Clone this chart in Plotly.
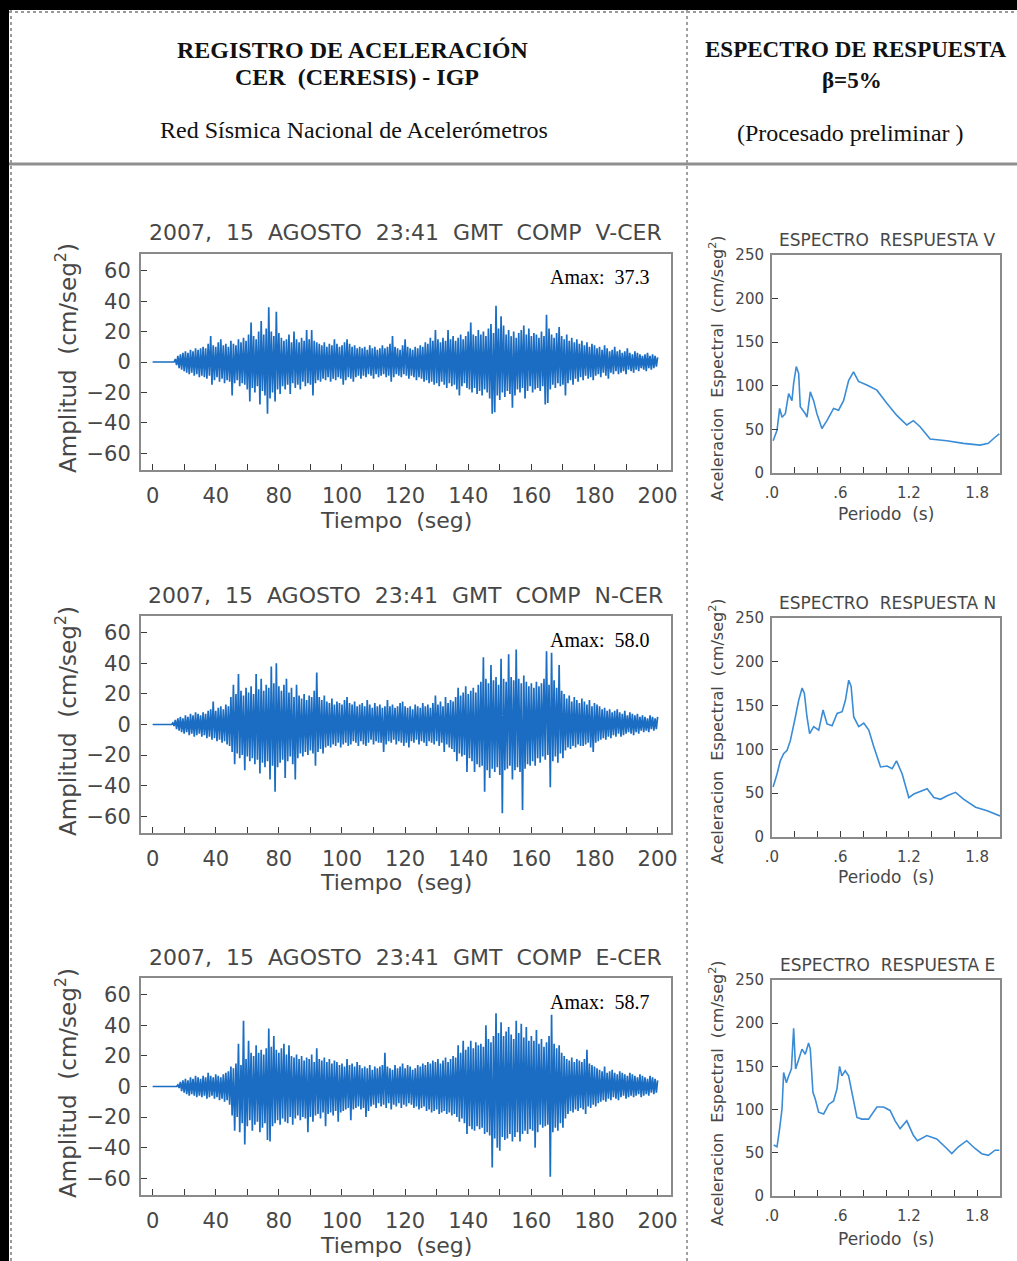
import plotly.graph_objects as go

# ---------------- DATA ----------------
SAMPLE_STEP = 1.0  # seconds between successive positive peaks

# Component V : positive peaks (t = 0,1,...,200) and negative peaks (t = 0.5,1.5,...)
v_upper = [
    0, 0, 0, 0, 0, 0, 0, 0, 0, 2,
    4, 5, 6, 7, 6, 8, 7, 9, 8, 9,
    10, 9, 12, 17, 11, 10, 13, 15, 11, 12,
    10, 14, 12, 11, 15, 13, 16, 14, 18, 26,
    17, 15, 20, 27, 18, 22, 36, 20, 17, 33,
    19, 16, 14, 15, 18, 13, 20, 15, 13, 16,
    14, 21, 15, 21, 14, 13, 12, 11, 13, 10,
    12, 11, 15, 12, 10, 11, 13, 15, 12, 10,
    11, 9, 10, 9, 10, 8, 11, 9, 10, 8,
    9, 11, 9, 10, 12, 17, 10, 9, 8, 11,
    15, 10, 9, 8, 10, 9, 11, 10, 13, 12,
    16, 14, 21, 15, 13, 16, 14, 21, 15, 17,
    14, 16, 18, 15, 17, 20, 26, 18, 17, 21,
    18, 20, 17, 22, 25, 19, 37, 22, 30, 24,
    18, 21, 17, 20, 16, 19, 21, 24, 18, 22,
    17, 19, 18, 16, 20, 17, 31, 22, 18, 16,
    19, 23, 17, 15, 18, 14, 16, 13, 15, 12,
    14, 11, 13, 10, 12, 11, 9, 10, 8, 11,
    9, 7, 8, 10, 7, 8, 6, 7, 9, 6,
    5, 7, 6, 5, 4, 5, 6, 4, 5, 4,
    3,
]
v_lower = [
    0, 0, 0, 0, 0, 0, 0, 0, 0, -2,
    -4, -5, -6, -7, -8, -7, -9, -8, -10, -9,
    -10, -11, -9, -15, -12, -10, -13, -11, -14, -12,
    -13, -22, -14, -12, -16, -14, -15, -18, -26, -17,
    -20, -16, -28, -19, -22, -34, -24, -20, -26, -18,
    -21, -16, -18, -15, -21, -14, -17, -15, -18, -13,
    -16, -14, -15, -22, -14, -12, -13, -11, -12, -10,
    -13, -11, -12, -10, -11, -15, -12, -10, -11, -13,
    -10, -9, -11, -9, -10, -8, -9, -11, -8, -10,
    -9, -8, -10, -9, -13, -10, -8, -9, -10, -8,
    -9, -11, -9, -10, -12, -10, -11, -13, -12, -14,
    -13, -15, -14, -16, -13, -15, -17, -14, -16, -15,
    -18, -22, -16, -14, -17, -18, -20, -17, -21, -19,
    -22, -18, -20, -24, -34, -33, -22, -25, -20, -23,
    -19, -21, -30, -22, -18, -20, -17, -24, -19, -16,
    -20, -18, -17, -19, -16, -28, -27, -18, -15, -17,
    -14, -16, -15, -22, -14, -12, -15, -11, -13, -10,
    -12, -9, -11, -10, -12, -9, -8, -10, -7, -9,
    -11, -7, -8, -6, -8, -7, -6, -8, -5, -6,
    -7, -5, -6, -4, -5, -6, -4, -5, -4, -3,
]

# Component N
n_upper = [
    0, 0, 0, 0, 0, 0, 0, 0, 1, 3,
    4, 5, 4, 6, 5, 7, 6, 8, 7, 6,
    8, 7, 9, 10, 15, 9, 11, 12, 10, 13,
    12, 18, 26, 20, 33, 22, 19, 24, 21, 25,
    20, 33, 23, 30, 22, 26, 24, 38, 27, 40,
    25, 22, 26, 30, 21, 24, 18, 26, 19, 17,
    20, 16, 19, 18, 22, 34, 18, 16, 19, 15,
    14, 17, 13, 15, 14, 13, 16, 18, 14, 13,
    15, 12, 13, 14, 12, 16, 13, 11, 14, 12,
    13, 11, 12, 16, 12, 13, 11, 12, 14, 15,
    12, 11, 12, 10, 13, 12, 11, 14, 12, 13,
    11, 14, 19, 13, 15, 12, 18, 14, 16, 15,
    18, 24, 19, 21, 25, 20, 22, 24, 21, 26,
    28, 44, 30, 27, 39, 29, 31, 26, 43, 30,
    28, 46, 31, 29, 49, 30, 27, 32, 28, 25,
    27, 24, 28, 25, 27, 30, 48, 26, 47, 29,
    24, 39, 22, 20, 17, 19, 15, 18, 16, 14,
    17, 15, 13, 16, 12, 14, 13, 12, 10, 11,
    9, 10, 8, 9, 10, 8, 7, 9, 6, 8,
    7, 6, 7, 5, 6, 5, 4, 6, 5, 4,
    5,
]
n_lower = [
    0, 0, 0, 0, 0, 0, 0, 0, -1, -3,
    -4, -5, -6, -5, -7, -6, -8, -7, -6, -8,
    -7, -9, -8, -10, -9, -11, -10, -12, -11, -13,
    -14, -18, -26, -19, -22, -20, -30, -21, -24, -22,
    -26, -23, -32, -25, -28, -24, -36, -27, -44, -28,
    -25, -23, -35, -24, -21, -26, -36, -22, -19, -21,
    -18, -20, -17, -19, -27, -18, -16, -19, -15, -14,
    -15, -13, -14, -12, -15, -13, -12, -14, -13, -11,
    -12, -14, -11, -13, -14, -12, -10, -13, -11, -12,
    -12, -18, -13, -11, -12, -10, -13, -11, -12, -14,
    -12, -15, -11, -12, -10, -13, -11, -12, -14, -11,
    -12, -13, -11, -14, -12, -18, -13, -15, -16, -18,
    -24, -19, -21, -20, -31, -22, -24, -31, -26, -28,
    -27, -44, -30, -35, -29, -31, -28, -33, -58, -30,
    -29, -27, -36, -30, -28, -31, -56, -29, -26, -27,
    -24, -27, -22, -25, -21, -23, -20, -41, -24, -21,
    -25, -19, -22, -17, -15, -16, -14, -15, -13, -14,
    -14, -13, -12, -15, -18, -12, -11, -10, -9, -10,
    -8, -9, -7, -8, -6, -8, -7, -6, -5, -6,
    -7, -5, -6, -4, -5, -4, -5, -3, -4, -3,
]

# Component E
e_upper = [
    0, 0, 0, 0, 0, 0, 0, 0, 0, 0,
    1, 3, 4, 5, 4, 6, 5, 7, 6, 5,
    7, 6, 9, 7, 6, 8, 7, 6, 8, 9,
    10, 13, 12, 15, 28, 14, 43, 18, 30, 22,
    20, 27, 22, 24, 21, 25, 38, 26, 33, 24,
    22, 25, 28, 21, 27, 20, 19, 21, 18, 20,
    17, 19, 18, 21, 16, 25, 18, 17, 19, 16,
    18, 15, 17, 16, 14, 15, 13, 18, 14, 15,
    13, 16, 14, 12, 13, 12, 14, 11, 13, 12,
    13, 14, 22, 13, 12, 11, 14, 12, 13, 15,
    12, 14, 13, 11, 12, 14, 13, 15, 14, 16,
    15, 17, 16, 18, 15, 17, 19, 16, 18, 20,
    19, 27, 22, 30, 24, 26, 30, 25, 29, 27,
    28, 26, 40, 31, 29, 33, 48, 35, 42, 33,
    36, 39, 34, 31, 43, 35, 41, 32, 39, 30,
    33, 30, 37, 28, 31, 26, 29, 33, 47, 28,
    25, 27, 22, 20, 18, 17, 19, 16, 18, 17,
    16, 18, 24, 15, 14, 13, 12, 11, 10, 13,
    9, 10, 11, 9, 8, 10, 9, 8, 7, 9,
    8, 7, 6, 8, 7, 6, 5, 7, 6, 5,
    4,
]
e_lower = [
    0, 0, 0, 0, 0, 0, 0, 0, 0, 0,
    -1, -3, -4, -5, -6, -5, -6, -7, -6, -7,
    -6, -8, -7, -6, -8, -7, -9, -8, -10, -9,
    -12, -19, -29, -20, -30, -24, -38, -26, -22, -29,
    -25, -23, -30, -27, -24, -35, -36, -26, -24, -22,
    -25, -21, -23, -24, -20, -25, -21, -19, -22, -20,
    -21, -30, -20, -23, -19, -18, -21, -17, -26, -18,
    -17, -19, -16, -23, -17, -16, -15, -14, -22, -15,
    -14, -13, -15, -14, -20, -16, -13, -12, -14, -11,
    -13, -12, -14, -11, -15, -12, -13, -11, -14, -12,
    -13, -11, -12, -14, -13, -15, -14, -13, -16, -15,
    -17, -16, -15, -18, -17, -16, -18, -17, -19, -18,
    -20, -23, -21, -24, -31, -26, -28, -29, -26, -28,
    -27, -31, -30, -32, -53, -34, -40, -42, -33, -35,
    -34, -31, -36, -33, -30, -36, -31, -29, -31, -28,
    -29, -40, -30, -25, -27, -26, -25, -59, -30, -27,
    -29, -24, -27, -21, -18, -16, -17, -15, -16, -14,
    -15, -18, -13, -14, -12, -13, -11, -10, -9, -10,
    -8, -9, -7, -8, -9, -7, -6, -8, -7, -6,
    -7, -6, -5, -7, -6, -5, -6, -4, -5, -4,
]

# Response spectra (period s, spectral acceleration cm/s2)
spec_v_period = [0.01, 0.044, 0.067, 0.088, 0.117, 0.146, 0.175, 0.19, 0.213, 0.234, 0.248, 0.292,
                 0.307, 0.336, 0.365, 0.394, 0.438, 0.482, 0.54, 0.584, 0.628, 0.672, 0.715, 0.759,
                 0.832, 0.92, 1.007, 1.095, 1.182, 1.241, 1.299, 1.387, 1.533, 1.679, 1.825, 1.898,
                 1.956, 1.994]
spec_v_accel = [37, 49, 74, 64, 68, 91, 83, 103, 122, 114, 76, 68,
                64, 93, 83, 68, 51, 60, 74, 72, 83, 106, 116, 105,
                101, 95, 80, 66, 55, 60, 53, 39, 37, 34, 32, 34,
                41, 45]

spec_n_period = [0.01, 0.044, 0.073, 0.102, 0.132, 0.161, 0.205, 0.234, 0.264, 0.284, 0.307, 0.33,
                 0.366, 0.41, 0.448, 0.483, 0.527, 0.571, 0.615, 0.644, 0.673, 0.694, 0.717, 0.761,
                 0.805, 0.849, 0.893, 0.952, 1.01, 1.054, 1.092, 1.142, 1.2, 1.244, 1.361, 1.42,
                 1.478, 1.537, 1.61, 1.683, 1.786, 1.888, 2.0]
spec_n_accel = [57, 72, 87, 95, 99, 110, 137, 156, 170, 164, 137, 118,
                126, 122, 145, 129, 127, 141, 143, 156, 179, 172, 137, 126,
                130, 122, 103, 80, 81, 78, 87, 72, 45, 49, 55, 45,
                43, 47, 51, 43, 34, 30, 24]

spec_e_period = [0.015, 0.044, 0.067, 0.088, 0.102, 0.126, 0.146, 0.17, 0.19, 0.207, 0.234, 0.263,
                 0.292, 0.321, 0.336, 0.359, 0.38, 0.409, 0.453, 0.497, 0.54, 0.57, 0.593, 0.613,
                 0.642, 0.672, 0.701, 0.745, 0.788, 0.847, 0.92, 0.978, 1.036, 1.08, 1.124, 1.182,
                 1.241, 1.276, 1.358, 1.445, 1.533, 1.577, 1.635, 1.708, 1.781, 1.84, 1.898, 1.956,
                 1.994]
spec_e_accel = [59, 57, 78, 101, 143, 131, 139, 147, 194, 147, 158, 170,
                164, 177, 170, 120, 112, 97, 95, 106, 110, 124, 150, 139,
                145, 139, 120, 91, 89, 89, 103, 103, 99, 87, 78, 87,
                70, 64, 70, 66, 55, 49, 57, 64, 55, 49, 47, 53,
                53]

seis_titles = ["2007,  15  AGOSTO  23:41  GMT  COMP  V-CER",
               "2007,  15  AGOSTO  23:41  GMT  COMP  N-CER",
               "2007,  15  AGOSTO  23:41  GMT  COMP  E-CER"]
amax_labels = ["Amax:  37.3", "Amax:  58.0", "Amax:  58.7"]
spec_titles = ["ESPECTRO  RESPUESTA V", "ESPECTRO  RESPUESTA N", "ESPECTRO  RESPUESTA E"]

seis_xtickvals = [0, 25, 50, 75, 100, 125, 150, 175, 200]
seis_xticktext = ["0", "40", "80", "100", "120", "140", "160", "180", "200"]
seis_ytickvals = [-60, -40, -20, 0, 20, 40, 60]
seis_yticktext = ["\u221260", "\u221240", "\u221220", "0", "20", "40", "60"]
spec_xtickvals = [0, 0.6, 1.2, 1.8]
spec_xticktext = [".0", ".6", "1.2", "1.8"]
spec_ytickvals = [0, 50, 100, 150, 200, 250]

# ---------------- LAYOUT HELPERS ----------------
W, H = 1017, 1261
def px(x):
    return x / W
def py(y):
    return 1 - y / H
def sp(s):
    return s.replace("  ", " \u00a0")

SANS = "DejaVu Sans"
SERIF = "Liberation Serif"
TXT = "#474747"
TRACE_COL = "#1a6dc2"
SPEC_COL = "#3a8cd6"


def interleave(up, low, step):
    t, a = [], []
    for i, u in enumerate(up):
        t.append(i * step)
        a.append(u)
        if i < len(low):
            t.append((i + 0.5) * step)
            a.append(low[i])
    return t, a


fig = go.Figure()

seis_tops = [254, 616, 978]
seis_bots = [470, 833, 1195]
spec_tops = [255, 618, 980]
spec_bots = [473, 837, 1196]
offs = [0, 363, 725]

seis_data = [(v_upper, v_lower), (n_upper, n_lower), (e_upper, e_lower)]
spec_data = [(spec_v_period, spec_v_accel), (spec_n_period, spec_n_accel), (spec_e_period, spec_e_accel)]

frame = dict(showline=True, mirror=True, linecolor="#8a8a8a", linewidth=2,
             showgrid=False, zeroline=False, ticks="inside", tickcolor="#3a3a3a",
             tickwidth=1, automargin=False, fixedrange=True)

annotations = []
layout_axes = {}
for r in range(3):
    ax_s = 2 * r + 1
    ax_p = 2 * r + 2
    xs = "x" if ax_s == 1 else f"x{ax_s}"
    ys = "y" if ax_s == 1 else f"y{ax_s}"
    xp, yp = f"x{ax_p}", f"y{ax_p}"

    t, a = interleave(seis_data[r][0], seis_data[r][1], SAMPLE_STEP)
    fig.add_trace(go.Scatter(x=t, y=a, mode="lines", xaxis=xs, yaxis=ys,
                             line=dict(color=TRACE_COL, width=1.7, simplify=False),
                             showlegend=False, hoverinfo="skip"))
    fig.add_trace(go.Scatter(x=spec_data[r][0], y=spec_data[r][1], mode="lines",
                             xaxis=xp, yaxis=yp,
                             line=dict(color=SPEC_COL, width=1.6, simplify=False),
                             showlegend=False, hoverinfo="skip"))

    kx = "xaxis" if ax_s == 1 else f"xaxis{ax_s}"
    ky = "yaxis" if ax_s == 1 else f"yaxis{ax_s}"
    layout_axes[kx] = dict(frame, domain=[px(141), px(671)], range=[-4.6, 205.3], anchor=ys,
                           tickmode="array", tickvals=seis_xtickvals, ticktext=seis_xticktext,
                           ticklen=6,
                           minor=dict(ticks="inside", ticklen=6, tickcolor="#3a3a3a",
                                      tickmode="linear", tick0=0, dtick=12.5, showgrid=False),
                           tickfont=dict(family=SANS, size=21, color=TXT), ticklabelstandoff=6)
    layout_axes[ky] = dict(frame, domain=[py(seis_bots[r]), py(seis_tops[r])], range=[-71, 71],
                           anchor=xs, tickmode="array", tickvals=seis_ytickvals,
                           ticktext=seis_yticktext, ticklen=6,
                           tickfont=dict(family=SANS, size=21, color=TXT), ticklabelstandoff=4)
    layout_axes[f"xaxis{ax_p}"] = dict(frame, domain=[px(772), px(1000)], range=[0, 2.0], anchor=yp,
                                       tickmode="array", tickvals=spec_xtickvals,
                                       ticktext=spec_xticktext, ticklen=6,
                                       minor=dict(ticks="inside", ticklen=6, tickcolor="#3a3a3a",
                                                  tickmode="linear", tick0=0, dtick=0.2,
                                                  showgrid=False),
                                       tickfont=dict(family=SANS, size=15, color=TXT),
                                       ticklabelstandoff=5)
    layout_axes[f"yaxis{ax_p}"] = dict(frame, domain=[py(spec_bots[r]), py(spec_tops[r])],
                                       range=[0, 250], anchor=xp, tickmode="array",
                                       tickvals=spec_ytickvals,
                                       ticktext=[str(v) for v in spec_ytickvals], ticklen=6,
                                       tickfont=dict(family=SANS, size=15, color=TXT),
                                       ticklabelstandoff=3)

    o = offs[r]
    annotations += [
        dict(x=px(405), y=py(232 + o), text=sp(seis_titles[r]),
             font=dict(family=SANS, size=22, color=TXT)),
        dict(x=px(651), y=py(277 + o), text=sp(amax_labels[r]), xanchor="right",
             font=dict(family=SERIF, size=20, color="#000")),
        dict(x=px(396), y=py(520 + o), text=sp("Tiempo  (seg)"),
             font=dict(family=SANS, size=22, color=TXT)),
        dict(x=px(66), y=py(358 + o), text=sp("Amplitud  (cm/seg<sup>2</sup>)"), textangle=-90,
             font=dict(family=SANS, size=23, color=TXT)),
        dict(x=px(887), y=py(240 + o), text=sp(spec_titles[r]),
             font=dict(family=SANS, size=17, color=TXT)),
        dict(x=px(886), y=py(514 + o), text=sp("Periodo  (s)"),
             font=dict(family=SANS, size=17, color=TXT)),
        dict(x=px(716), y=py(368 + o), text=sp("Aceleracion  Espectral  (cm/seg<sup>2</sup>)"),
             textangle=-90, font=dict(family=SANS, size=16, color=TXT)),
    ]

annotations += [
    dict(x=px(352), y=py(50), text="<b>REGISTRO DE ACELERACIÓN</b>",
         font=dict(family=SERIF, size=24, color="#111")),
    dict(x=px(357), y=py(77), text=sp("<b>CER  (CERESIS) - IGP</b>"),
         font=dict(family=SERIF, size=24, color="#111")),
    dict(x=px(354), y=py(130), text="Red Sísmica Nacional de Acelerómetros",
         font=dict(family=SERIF, size=24, color="#111")),
    dict(x=px(856), y=py(50), text="<b>ESPECTRO DE RESPUESTA</b>",
         font=dict(family=SERIF, size=23, color="#111")),
    dict(x=px(852), y=py(80), text="<b>β=5%</b>",
         font=dict(family=SERIF, size=23, color="#111")),
    dict(x=px(850), y=py(133), text="(Procesado preliminar )",
         font=dict(family=SERIF, size=24, color="#111")),
]
for a_ in annotations:
    a_.setdefault("xanchor", "center")
    a_.update(xref="paper", yref="paper", showarrow=False, yanchor="middle")

shapes = [
    dict(type="rect", x0=0, x1=1, y0=py(10), y1=1, fillcolor="#000", line=dict(width=0)),
    dict(type="rect", x0=0, x1=px(9), y0=0, y1=1, fillcolor="#000", line=dict(width=0)),
    dict(type="line", x0=px(11), x1=px(11), y0=0, y1=py(10), line=dict(color="#9a9a9a", width=2, dash="dot")),
    dict(type="line", x0=px(9), x1=1, y0=py(12), y1=py(12), line=dict(color="#9a9a9a", width=2, dash="dot")),
    dict(type="line", x0=px(9), x1=1, y0=py(164), y1=py(164), line=dict(color="#8f8f8f", width=3)),
    dict(type="line", x0=px(687), x1=px(687), y0=0, y1=py(10), line=dict(color="#a0a0a0", width=2, dash="dot")),
]
for s in shapes:
    s.update(xref="paper", yref="paper", layer="below")

fig.update_layout(width=W, height=H, autosize=False, margin=dict(l=0, r=0, t=0, b=0, pad=0),
                  paper_bgcolor="white", plot_bgcolor="white", showlegend=False,
                  template="none", annotations=annotations, shapes=shapes, **layout_axes)

fig.write_html("out.html", config={"displayModeBar": False},
               post_script="document.body.style.margin='0px';document.body.style.overflow='hidden';")
